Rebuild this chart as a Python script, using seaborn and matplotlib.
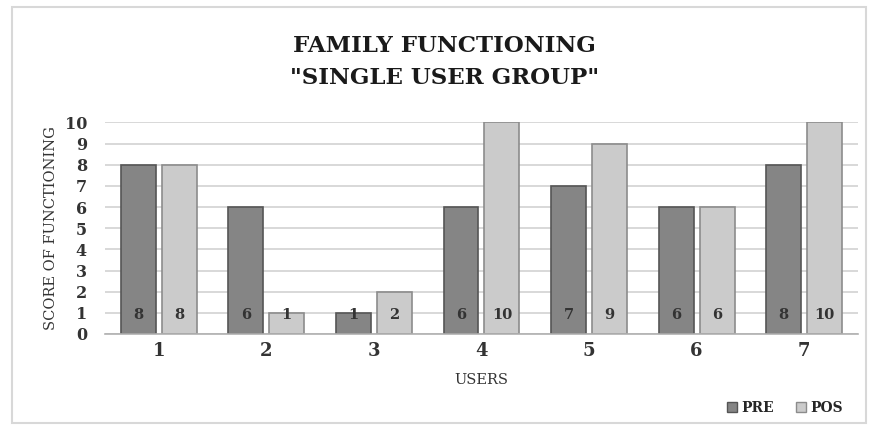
import matplotlib
matplotlib.use("Agg")
import matplotlib.pyplot as plt
import seaborn as sns
import pandas as pd
from matplotlib.patches import Rectangle

users = ["1", "2", "3", "4", "5", "6", "7"]
pre = [8, 6, 1, 6, 7, 6, 8]
pos = [8, 1, 2, 10, 9, 6, 10]
series = ["PRE", "POS"]
colors = {"PRE": "#858585", "POS": "#cbcbcb"}
edges = {"PRE": "#555555", "POS": "#8c8c8c"}

df = pd.DataFrame({
    "user": users * 2,
    "value": pre + pos,
    "series": ["PRE"] * len(users) + ["POS"] * len(users),
})

sns.set_style("white")
plt.rcParams["font.family"] = ["DejaVu Serif"]

fig = plt.figure(figsize=(8.72, 4.3), dpi=100)
ax = fig.add_axes([0.1204, 0.2233, 0.8635, 0.492])

sns.barplot(data=df, x="user", y="value", hue="series", order=users,
            hue_order=series, palette=colors, width=0.762, gap=0.147,
            linewidth=1.2, ax=ax, legend=False)

for cont, s in zip(ax.containers, series):
    for bar, v in zip(cont, cont.datavalues):
        bar.set_edgecolor(edges[s])
        ax.text(bar.get_x() + bar.get_width() / 2, 0.9, f"{int(v)}", ha="center",
                va="center", fontsize=10.5, fontweight="bold", color="#333333")

ax.set_ylim(0, 10)
ax.set_xlim(-0.5, len(users) - 0.5)
ax.set_yticks(range(0, 11))
ax.yaxis.grid(True, color="#d6d6d6", linewidth=1.3)
ax.set_axisbelow(True)
for side in ["top", "right", "left"]:
    ax.spines[side].set_visible(False)
ax.spines["bottom"].set_color("#b0b0b0")
ax.spines["bottom"].set_linewidth(1.2)
ax.tick_params(axis="y", length=0, labelsize=11.5, pad=13)
ax.tick_params(axis="x", length=0, labelsize=13, pad=6)
for t in ax.get_yticklabels():
    t.set_fontweight("bold")
    t.set_color("#333333")
for t in ax.get_xticklabels():
    t.set_fontweight("bold")
    t.set_color("#333333")
ax.set_xlabel("USERS", fontsize=10.5, color="#333333", labelpad=9)
ax.set_ylabel("SCORE OF FUNCTIONING", fontsize=10.5, color="#333333", labelpad=5)

fig.text(0.51, 0.893, "FAMILY FUNCTIONING", ha="center", va="center",
         fontsize=16.5, fontweight="bold", color="#1a1a1a")
fig.text(0.51, 0.818, "\"SINGLE USER GROUP\"", ha="center", va="center",
         fontsize=16.5, fontweight="bold", color="#1a1a1a")

handles = [Rectangle((0, 0), 1, 1, facecolor=colors[s], edgecolor=edges[s]) for s in series]
fig.legend(handles, series, loc="center", bbox_to_anchor=(0.9, 0.052), ncol=2,
           frameon=False, handlelength=0.7, handleheight=0.7,
           handletextpad=0.3, columnspacing=1.6,
           prop={"weight": "bold", "size": 10})

fig.patches.append(Rectangle((12 / 872, 7 / 430), 854 / 872, 416 / 430,
                             transform=fig.transFigure, fill=False,
                             edgecolor="#d8d8d8", linewidth=1.5))

fig.savefig("out.png", dpi=100)
